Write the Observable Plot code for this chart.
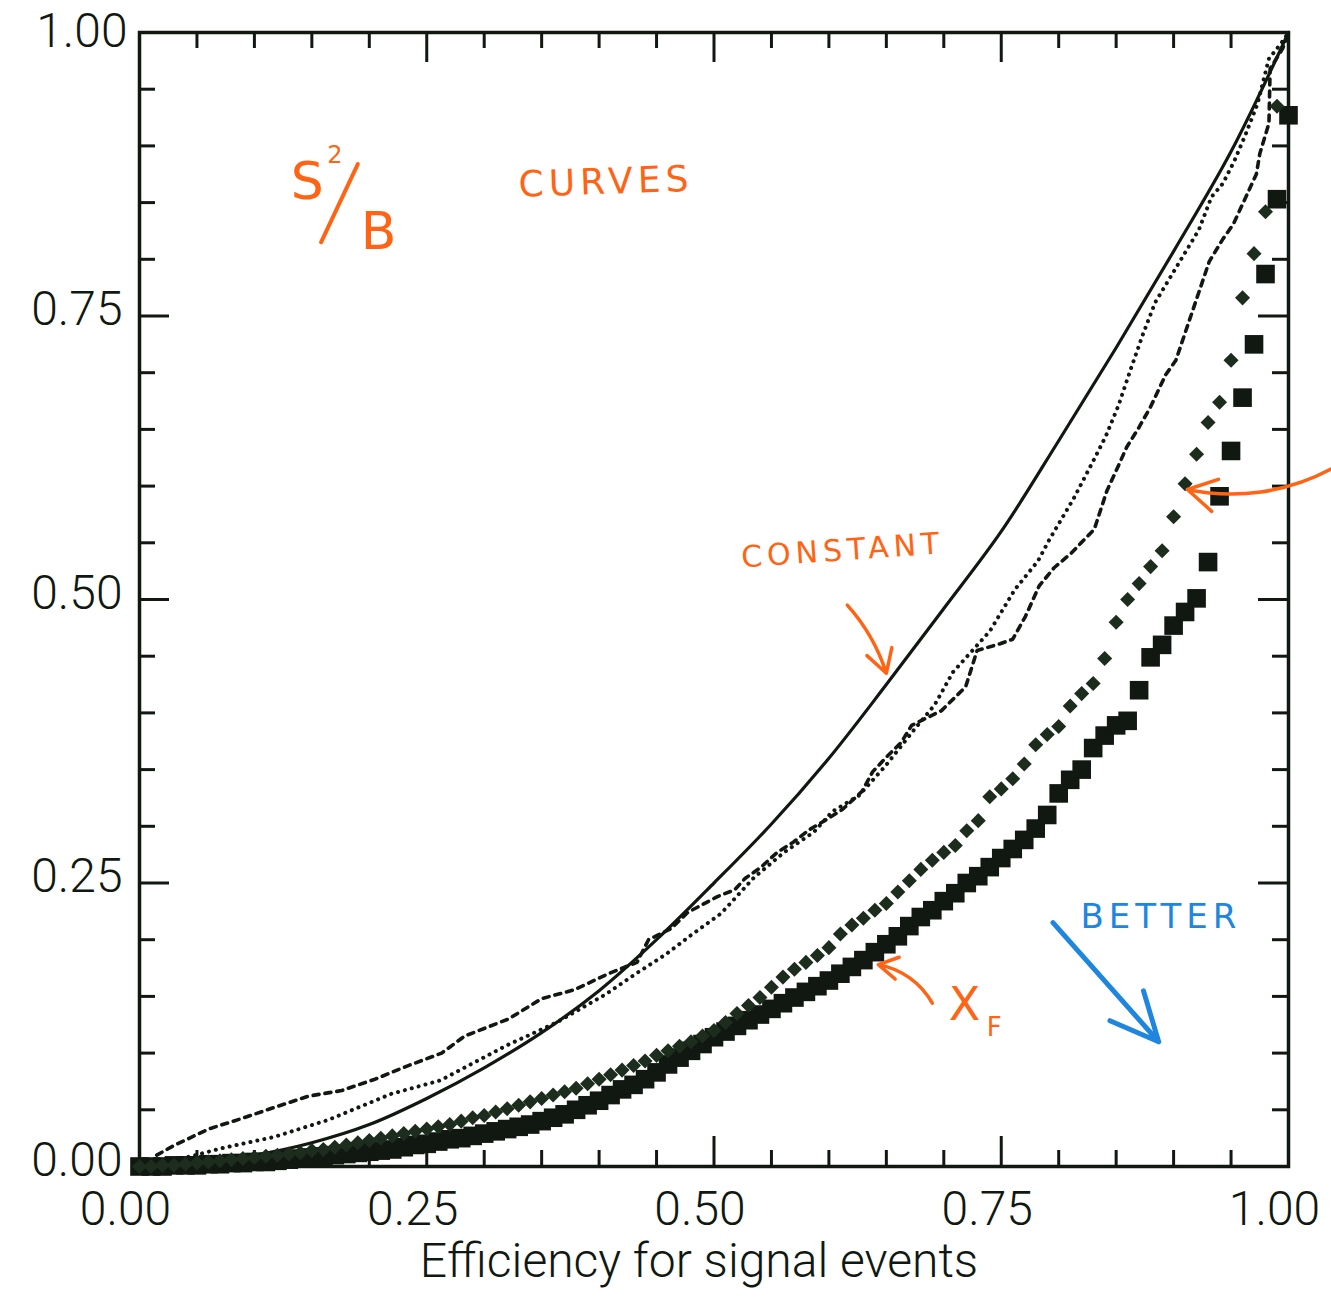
<!DOCTYPE html>
<html><head><meta charset="utf-8">
<script src="https://cdn.jsdelivr.net/npm/d3@7"></script>
<script src="https://cdn.jsdelivr.net/npm/@observablehq/plot@0.6"></script>
<style>body{margin:0;background:#fff;} #chart svg{display:block;background:#fff;}</style>
</head><body><div id="chart"></div>
<script>
// ---- data ----
const effGrid = [0.00,0.01,0.02,0.03,0.04,0.05,0.06,0.07,0.08,0.09,0.10,0.11,0.12,0.13,0.14,0.15,0.16,0.17,0.18,0.19,
0.20,0.21,0.22,0.23,0.24,0.25,0.26,0.27,0.28,0.29,0.30,0.31,0.32,0.33,0.34,0.35,0.36,0.37,0.38,0.39,
0.40,0.41,0.42,0.43,0.44,0.45,0.46,0.47,0.48,0.49,0.50,0.51,0.52,0.53,0.54,0.55,0.56,0.57,0.58,0.59,
0.60,0.61,0.62,0.63,0.64,0.65,0.66,0.67,0.68,0.69,0.70,0.71,0.72,0.73,0.74,0.75,0.76,0.77,0.78,0.79,
0.80,0.81,0.82,0.83,0.84,0.85,0.86,0.87,0.88,0.89,0.90,0.91,0.92,0.93,0.94,0.95,0.96,0.97,0.98,0.99,1.00];

const diamondY = [0.000,0.000,0.001,0.001,0.002,0.003,0.004,0.005,0.006,0.007,
0.008,0.009,0.010,0.011,0.012,0.014,0.015,0.017,0.019,0.021,
0.023,0.025,0.027,0.029,0.031,0.033,0.035,0.037,0.040,0.043,
0.045,0.048,0.051,0.054,0.057,0.060,0.063,0.066,0.069,0.073,
0.077,0.081,0.085,0.089,0.093,0.098,0.102,0.106,0.110,0.115,
0.120,0.127,0.135,0.142,0.149,0.158,0.167,0.174,0.180,0.186,
0.193,0.205,0.213,0.219,0.226,0.232,0.242,0.252,0.262,0.270,
0.277,0.283,0.296,0.305,0.326,0.333,0.342,0.355,0.372,0.381,
0.388,0.406,0.417,0.426,0.448,0.480,0.500,0.514,0.529,0.543,
0.573,0.602,0.628,0.656,0.674,0.711,0.766,0.805,0.842,0.935];

const squareY = [0.000,0.000,0.000,0.001,0.001,0.001,0.002,0.002,0.003,0.003,
0.004,0.004,0.005,0.006,0.007,0.008,0.009,0.010,0.011,0.012,
0.013,0.014,0.015,0.017,0.019,0.020,0.022,0.024,0.025,0.027,
0.029,0.031,0.033,0.035,0.037,0.040,0.043,0.046,0.050,0.054,
0.058,0.063,0.068,0.072,0.077,0.083,0.090,0.096,0.102,0.108,
0.114,0.119,0.124,0.129,0.134,0.139,0.144,0.149,0.154,0.159,
0.164,0.170,0.176,0.182,0.189,0.196,0.203,0.212,0.220,0.226,
0.234,0.241,0.250,0.256,0.264,0.272,0.280,0.288,0.298,0.310,
0.329,0.341,0.350,0.369,0.380,0.389,0.393,0.420,0.449,0.460,
0.477,0.489,0.501,0.533,0.591,0.631,0.678,0.725,0.787,0.853,0.927];

const solidX = [0.00,0.05,0.10,0.15,0.20,0.25,0.30,0.35,0.40,0.45,0.50,0.55,0.60,0.65,0.70,0.75,0.80,0.85,0.90,0.95,1.00];
const solidY = [0.000,0.003,0.010,0.021,0.037,0.060,0.087,0.118,0.155,0.200,0.250,0.302,0.360,0.425,0.492,0.560,0.640,0.722,0.807,0.895,1.000];

const dottedX = [0.000,0.020,0.045,0.071,0.117,0.164,0.219,0.262,0.290,0.320,0.363,0.406,0.432,0.458,0.480,0.506,0.535,0.561,0.587,0.603,
0.626,0.649,0.674,0.692,0.708,0.740,0.762,0.782,0.792,0.813,0.831,0.841,0.852,0.863,0.873,0.884,0.900,0.922,0.933,0.943,0.953,0.963,0.973,0.983,0.994,1.000];
const dottedY = [0.000,0.004,0.009,0.016,0.026,0.041,0.064,0.076,0.091,0.107,0.127,0.152,0.170,0.187,0.204,0.223,0.255,0.277,0.295,0.313,
0.327,0.353,0.385,0.407,0.436,0.472,0.509,0.534,0.553,0.589,0.624,0.644,0.671,0.704,0.733,0.762,0.789,0.826,0.855,0.867,0.887,0.911,0.937,0.977,0.991,1.000];

const dashedX = [0.015,0.029,0.060,0.088,0.117,0.147,0.176,0.205,0.234,0.263,0.283,0.321,0.350,0.379,0.408,0.433,0.443,0.463,0.477,0.503,
0.518,0.527,0.541,0.555,0.569,0.583,0.598,0.612,0.629,0.638,0.651,0.663,0.672,0.698,0.709,0.719,0.729,0.749,0.760,0.771,
0.783,0.796,0.811,0.831,0.842,0.852,0.859,0.870,0.880,0.893,0.902,0.915,0.931,0.943,0.952,0.962,0.972,0.975,0.983,0.984,0.995,1.000];
const dashedY = [0.010,0.018,0.033,0.042,0.052,0.062,0.067,0.077,0.089,0.100,0.115,0.130,0.148,0.156,0.170,0.180,0.200,0.210,0.224,0.238,
0.244,0.254,0.264,0.277,0.286,0.297,0.306,0.315,0.331,0.348,0.362,0.374,0.389,0.402,0.413,0.423,0.455,0.461,0.465,0.485,
0.512,0.528,0.541,0.562,0.596,0.618,0.634,0.652,0.670,0.698,0.711,0.750,0.798,0.818,0.831,0.853,0.875,0.893,0.920,0.968,0.986,1.000];

const majorTicks = [0.00,0.25,0.50,0.75,1.00];
const minorTicks = [0.05,0.10,0.15,0.20,0.30,0.35,0.40,0.45,0.55,0.60,0.65,0.70,0.80,0.85,0.90,0.95];
const axisTitle = "Efficiency for signal events";

// handwritten annotations (text, anchor point in data units)
const noteTexts = ["S", "2", "B", "CURVES", "CONSTANT", "X", "F", "BETTER"];
const noteX = [0.146, 0.170, 0.208, 0.406, 0.612, 0.718, 0.744, 0.889];
const noteY = [0.868, 0.892, 0.824, 0.868, 0.543, 0.142, 0.122, 0.220];

// ---- layout ----
const W = 1331, H = 1300;
const mL = 139, mR = 43, mT = 32, mB = 134;
const innerH = H - mT - mB, innerW = W - mL - mR;
const ink = "#111811";
const orange = "#ff6414";
const blue = "#1f86e0";

const solid = solidX.map((x, i) => ({x, y: solidY[i]}));
const dotted = dottedX.map((x, i) => ({x, y: dottedY[i]}));
const dashed = dashedX.map((x, i) => ({x, y: dashedY[i]}));
const diamonds = diamondY.map((y, i) => ({x: effGrid[i], y}));
const squares = squareY.map((y, i) => ({x: effGrid[i], y}));
const notes = noteTexts.map((t, i) => ({t, x: noteX[i], y: noteY[i]}));

const diamondSymbol = {
  draw(ctx, size) {
    const r = Math.sqrt(size / 2);
    ctx.moveTo(0, -r); ctx.lineTo(r, 0); ctx.lineTo(0, r); ctx.lineTo(-r, 0); ctx.closePath();
  }
};

const tickFont = "Roboto, 'Liberation Sans', sans-serif";
const handFont = "'DejaVu Sans', sans-serif";
const fmt = d3.format(".2f");

const chart = Plot.plot({
  width: W, height: H,
  marginLeft: mL, marginRight: mR, marginTop: mT, marginBottom: mB,
  x: {domain: [0, 1], axis: null},
  y: {domain: [0, 1], axis: null},
  style: {background: "#fff"},
  marks: [
    // ticks, inward on all four sides
    Plot.tickX(minorTicks, {x: d => d, stroke: ink, strokeWidth: 3, insetTop: innerH - 16}),
    Plot.tickX(majorTicks, {x: d => d, stroke: ink, strokeWidth: 3, insetTop: innerH - 30}),
    Plot.tickX(minorTicks, {x: d => d, stroke: ink, strokeWidth: 3, insetBottom: innerH - 16}),
    Plot.tickX(majorTicks, {x: d => d, stroke: ink, strokeWidth: 3, insetBottom: innerH - 30}),
    Plot.tickY(minorTicks, {y: d => d, stroke: ink, strokeWidth: 3, insetRight: innerW - 16}),
    Plot.tickY(majorTicks, {y: d => d, stroke: ink, strokeWidth: 3, insetRight: innerW - 30}),
    Plot.tickY(minorTicks, {y: d => d, stroke: ink, strokeWidth: 3, insetLeft: innerW - 16}),
    Plot.tickY(majorTicks, {y: d => d, stroke: ink, strokeWidth: 3, insetLeft: innerW - 30}),
    Plot.frame({stroke: ink, strokeWidth: 3.5}),
    // tick labels
    Plot.text(majorTicks, {x: d => d, text: fmt, frameAnchor: "bottom", dx: -14, dy: 58,
      fontSize: 48, fontFamily: tickFont, fontWeight: 300, fill: ink}),
    Plot.text(majorTicks.filter(d => d < 1), {y: d => d, text: fmt, frameAnchor: "left", dx: -17, dy: -6, textAnchor: "end",
      fontSize: 48, fontFamily: tickFont, fontWeight: 300, fill: ink}),
    Plot.text(majorTicks.filter(d => d === 1), {y: d => d, text: fmt, frameAnchor: "left", dx: -12, dy: -1, textAnchor: "end",
      fontSize: 48, fontFamily: tickFont, fontWeight: 300, fill: ink}),
    Plot.text([axisTitle], {text: d => d, frameAnchor: "bottom", dx: -15, dy: 110,
      fontSize: 48, fontFamily: tickFont, fontWeight: 300, fill: ink}),
    // curves
    Plot.line(solid, {x: "x", y: "y", stroke: ink, strokeWidth: 3.2, curve: "catmull-rom"}),
    Plot.line(dotted, {x: "x", y: "y", stroke: ink, strokeWidth: 4, strokeDasharray: "0.1,7", strokeLinecap: "round"}),
    Plot.line(dashed, {x: "x", y: "y", stroke: ink, strokeWidth: 3.6, strokeDasharray: "6,6"}),
    Plot.dot(squares, {x: "x", y: "y", symbol: "square", r: 10.5, fill: ink, stroke: "none"}),
    Plot.dot(diamonds, {x: "x", y: "y", symbol: diamondSymbol, r: 6, fill: "#1d2d1d", stroke: "none"}),
    // annotations
    Plot.link([{x1: 0.158, y1: 0.815, x2: 0.190, y2: 0.884}], {x1: "x1", y1: "y1", x2: "x2", y2: "y2",
      stroke: orange, strokeWidth: 4, strokeLinecap: "round"}),
    Plot.text(notes.filter(d => ["S", "B"].includes(d.t)), {x: "x", y: "y", text: "t", fontSize: 52,
      fontFamily: handFont, fill: orange}),
    Plot.text(notes.filter(d => d.t === "2"), {x: "x", y: "y", text: "t", fontSize: 24, fontFamily: handFont, fill: orange}),
    Plot.text(notes.filter(d => d.t === "CURVES"), {x: "x", y: "y", text: "t", fontSize: 36, rotate: -2,
      fontFamily: handFont, fill: orange}),
    Plot.text(notes.filter(d => d.t === "CONSTANT"), {x: "x", y: "y", text: "t", fontSize: 30, rotate: -4,
      fontFamily: handFont, fill: orange}),
    Plot.text(notes.filter(d => d.t === "X"), {x: "x", y: "y", text: "t", fontSize: 46, fontFamily: handFont, fill: orange}),
    Plot.text(notes.filter(d => d.t === "F"), {x: "x", y: "y", text: "t", fontSize: 26, fontFamily: handFont, fill: orange}),
    Plot.text(notes.filter(d => d.t === "BETTER"), {x: "x", y: "y", text: "t", fontSize: 34, fontFamily: handFont, fill: blue}),
    Plot.arrow([{x1: 0.616, y1: 0.495, x2: 0.650, y2: 0.435}], {x1: "x1", y1: "y1", x2: "x2", y2: "y2",
      bend: 12, stroke: orange, strokeWidth: 3.5, headLength: 16}),
    Plot.arrow([{x1: 0.690, y1: 0.144, x2: 0.643, y2: 0.178}], {x1: "x1", y1: "y1", x2: "x2", y2: "y2",
      bend: -25, stroke: orange, strokeWidth: 3.5, headLength: 16}),
    Plot.arrow([{x1: 1.037, y1: 0.615, x2: 0.912, y2: 0.597}], {x1: "x1", y1: "y1", x2: "x2", y2: "y2",
      bend: 20, stroke: orange, strokeWidth: 3.5, headLength: 14}),
    Plot.arrow([{x1: 0.795, y1: 0.215, x2: 0.887, y2: 0.110}], {x1: "x1", y1: "y1", x2: "x2", y2: "y2",
      stroke: blue, strokeWidth: 5, headLength: 30, headAngle: 50})
  ]
});

d3.select(chart).selectAll("text")
  .filter(function() { return ["CURVES", "CONSTANT", "BETTER"].includes(this.textContent); })
  .attr("letter-spacing", "5px");
document.getElementById("chart").appendChild(chart);
</script>
</body></html>
